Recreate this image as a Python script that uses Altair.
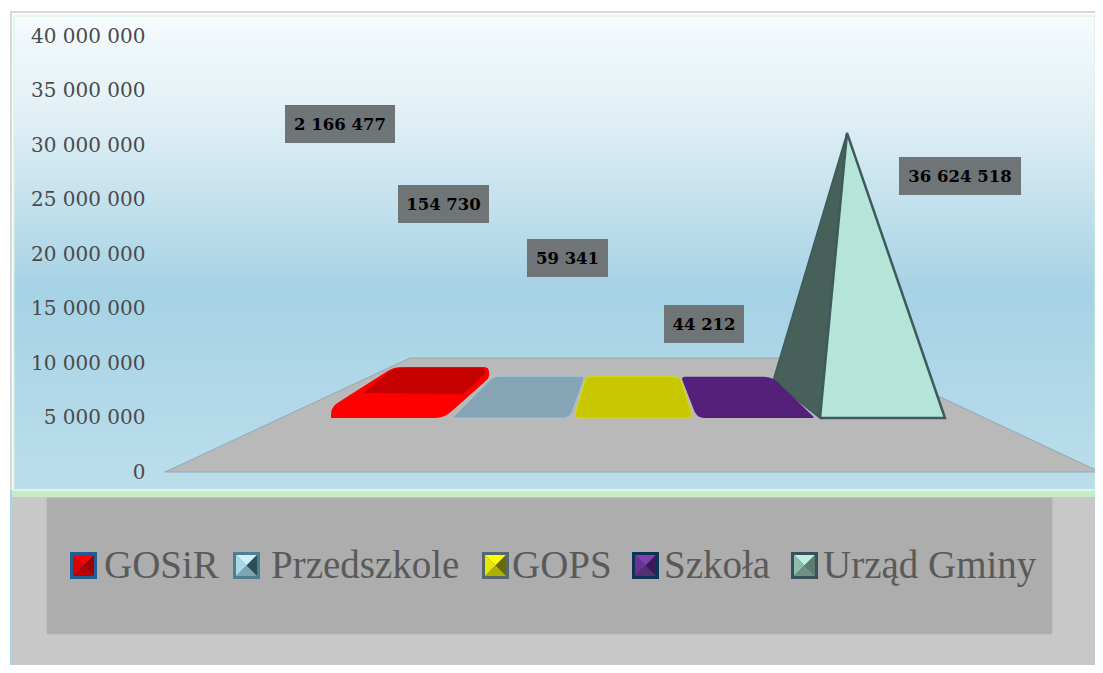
import altair as alt
import pandas as pd

# ---- chart data ----
series = ["GOSiR", "Przedszkole", "GOPS", "Szkoła", "Urząd Gminy"]
values = [2166477, 154730, 59341, 44212, 36624518]
ticks = [0, 5000000, 10000000, 15000000, 20000000, 25000000, 30000000, 35000000, 40000000]
series_colors = ["#fe0000", "#85a4b5", "#c8c800", "#55207a", "#b4e5d8"]

# ---- layout (page pixels) ----
W, H = 1087, 657
OX, OY = 8, 8
ZERO_PY = 472
PX_PER_UNIT = 436 / 40000000
BASE_PY = 418          # front edge of the series row on the 3D floor
PYR_K = 0.714          # perspective foreshortening of pyramid height
SLAB_K = 0.42          # perspective foreshortening of slab rise
BACK_PY = 377
RIGHT = OX + W
BOTTOM = OY + H


def Yv(py):
    return (ZERO_PY - py) / PX_PER_UNIT


xscale = alt.Scale(domain=[OX, RIGHT], nice=False, zero=False)
yscale = alt.Scale(domain=[Yv(BOTTOM), Yv(OY)], nice=False, zero=False)
xenc = alt.X("x:Q", scale=xscale, axis=None)
yenc = alt.Y(
    "y:Q", scale=yscale, stack=None, title=None,
    axis=alt.Axis(
        values=ticks, grid=False, domain=False, ticks=False, title=None,
        offset=-137, labelPadding=0, zindex=1, labelFont="DejaVu Serif",
        labelFontSize=20, labelColor="#4a4a4a",
        labelExpr="replace(format(datum.value, ','), /,/g, ' ')",
    ),
)


def rounded(corners):
    """corners: (x, y, radius); returns a smooth outline."""
    out = []
    n = len(corners)
    for i, (x, y, r) in enumerate(corners):
        if r <= 0:
            out.append((x, y))
            continue
        px, py, _ = corners[i - 1]
        nx, ny, _ = corners[(i + 1) % n]
        d1 = ((px - x) ** 2 + (py - y) ** 2) ** 0.5
        d2 = ((nx - x) ** 2 + (ny - y) ** 2) ** 0.5
        a = (x + (px - x) * r / d1, y + (py - y) * r / d1)
        b = (x + (nx - x) * r / d2, y + (ny - y) * r / d2)
        for k in range(7):
            t = k / 6
            out.append(((1 - t) ** 2 * a[0] + 2 * t * (1 - t) * x + t ** 2 * b[0],
                        (1 - t) ** 2 * a[1] + 2 * t * (1 - t) * y + t ** 2 * b[1]))
    return out


def span_rows(points, name=None):
    """Convex outline -> rows x, y, y2 for an area mark."""
    xs = sorted({round(p[0], 3) for p in points})
    rows = []
    n = len(points)
    for x in xs:
        hits = []
        for i in range(n):
            (x0, y0), (x1, y1) = points[i], points[(i + 1) % n]
            lo, hi = min(x0, x1), max(x0, x1)
            if lo - 0.002 <= x <= hi + 0.002:
                if abs(x1 - x0) < 1e-6:
                    hits += [y0, y1]
                else:
                    hits.append(y0 + (y1 - y0) * (x - x0) / (x1 - x0))
        rows.append({"x": x, "y": Yv(min(hits)), "y2": Yv(max(hits)), "series": name})
    return rows


def poly(points, fill, stroke=None, sw=1.0):
    parts = [alt.Chart(pd.DataFrame(span_rows(points))).mark_area(fill=fill, opacity=1)
             .encode(x=xenc, y=yenc, y2=alt.Y2("y2:Q"))]
    if stroke:
        parts.append(outline(points + [points[0]], stroke, sw))
    return parts


def outline(points, stroke, sw=1.0):
    df = pd.DataFrame([{"x": p[0], "y": Yv(p[1]), "o": i} for i, p in enumerate(points)])
    return alt.Chart(df).mark_line(color=stroke, strokeWidth=sw, strokeJoin="miter").encode(
        x=xenc, y=yenc, order=alt.Order("o:Q"))


def box(x0, y0, x1, y1, fill, stroke=None):
    df = pd.DataFrame([{"x": x0, "x2": x1, "y": Yv(y0), "y2": Yv(y1)}])
    kw = {"stroke": stroke, "strokeWidth": 1} if stroke else {}
    return alt.Chart(df).mark_rect(fill=fill, **kw).encode(
        x=xenc, x2=alt.X2("x2:Q"), y=yenc, y2=alt.Y2("y2:Q"))


layers = []

# ---- panel backgrounds ----
sky = alt.LinearGradient(
    gradient="linear", x1=0, x2=0, y1=0, y2=1,
    stops=[
        alt.GradientStop(offset=0, color="#f6fbfd"),
        alt.GradientStop(offset=0.2, color="#e2f0f6"),
        alt.GradientStop(offset=0.58, color="#a6d2e5"),
        alt.GradientStop(offset=1, color="#bbdeeb"),
    ],
)
layers.append(box(10, 11, RIGHT, BOTTOM, "#d9d9d9"))
layers.append(box(12, 13, RIGHT, 490, "#f8fcfe"))
layers.append(box(14, 16, RIGHT, 490, sky, "#d3f3da"))
layers.append(box(10, 490, 12, BOTTOM, "#a8d4ea"))
layers.append(box(12, 489, RIGHT, 491, "#dff3ee"))
layers.append(box(12, 491, RIGHT, 497, "#c6eec6"))
layers.append(box(12, 497, RIGHT, BOTTOM, "#c8c8c8"))
layers.append(box(47, 498, 1052, 634, "#adadad", "#b4b4b4"))

# ---- 3D floor ----
floor = [(165, 472), (410, 358), (857, 358), (1095, 469.6)]
layers += poly(floor + [(1095, 472)], "#b9b9b9")
layers.append(outline([(1095, 469.6), (857, 358), (410, 358), (165, 472), (1095, 472)], "#8fa9b7", 1))

# ---- pyramid (largest series) ----
apex_py = BASE_PY - values[4] * PX_PER_UNIT * PYR_K
apex = (847, apex_py)
layers += poly([(773, 381), apex, (820, BASE_PY)], "#47605a", "#3d5a5c", 1.5)

# ---- series row ----
rise = [v * PX_PER_UNIT * SLAB_K for v in values]
top = [BACK_PY - r for r in rise]
shapes = {
    "Urząd Gminy": [(820, BASE_PY), (apex[0], apex[1]), (945, BASE_PY)],
    "Szkoła": rounded([(697, 418, 8), (681, top[3], 4), (772, top[3], 8), (815, 418, 3)]),
    "GOPS": rounded([(574, 418, 6), (586, top[2], 4), (680, top[2], 6), (693, 418, 6)]),
    "Przedszkole": rounded([(452, 418, 2), (494, top[1], 5), (585, top[1], 5), (570, 418, 8)]),
    "GOSiR": rounded([(331, 418, 0), (331, 407, 8), (394, top[0], 7), (489, top[0], 5),
                      (489, 378, 3), (444, 418, 9)]),
}
rows = []
for name in ["Urząd Gminy", "Szkoła", "GOPS", "Przedszkole", "GOSiR"]:
    rows += span_rows(shapes[name], name)
legend = alt.Legend(
    orient="none", legendX=57, legendY=538, columns=5, title=None, padding=0,
    symbolType="square", symbolSize=676, symbolOpacity=0, symbolStrokeWidth=0,
    labelFont="Liberation Serif", labelFontSize=39, labelColor="#5a5a5a",
    labelOffset=0, columnPadding=13, labelLimit=0, zindex=1,
)
layers.append(
    alt.Chart(pd.DataFrame(rows)).mark_area(opacity=1).encode(
        x=xenc, y=yenc, y2=alt.Y2("y2:Q"),
        color=alt.Color("series:N", scale=alt.Scale(domain=series, range=series_colors), legend=legend),
    )
)
# slab rims and shading
layers.append(outline(shapes["Przedszkole"] + shapes["Przedszkole"][:1], "#a3c3d6", 1))
layers.append(outline(shapes["GOPS"] + shapes["GOPS"][:1], "#dada10", 1))
layers += poly(rounded([(363, 393, 3), (394, top[0] + 1, 7), (485, top[0] + 1, 5), (485, 374, 2), (463, 394, 3)]),
               "#c60000")
layers.append(outline([(820, BASE_PY), apex, (945, BASE_PY), (820, BASE_PY)], "#3d5a5c", 2.5))

# ---- value labels ----
label_boxes = [(285, 105, 395, 143), (398, 185, 489, 223), (527, 239, 608, 277),
               (664, 305, 744, 343), (899, 157, 1021, 195)]
for (x0, y0, x1, y1) in label_boxes:
    layers.append(box(x0, y0, x1, y1, "#6f7477"))
text_rows = [
    {"x": (b[0] + b[2]) / 2, "y": Yv((b[1] + b[3]) / 2 + 1), "t": f"{v:,}".replace(",", " ")}
    for b, v in zip(label_boxes, values)
]
layers.append(
    alt.Chart(pd.DataFrame(text_rows)).mark_text(
        font="DejaVu Serif", fontSize=16.5, fontWeight="bold", color="#000000", baseline="middle", align="center"
    ).encode(x=xenc, y=yenc, text="t:N")
)

# ---- bevelled legend swatches (under the legend's transparent symbols) ----
swatch_x = [70, 233, 482, 632, 791]
swatch_shades = [
    ("#1f5f95", "#ff0000", "#e00000", "#a00000", "#c00000"),
    ("#4e7f90", "#cfeef8", "#a9d8e8", "#2b4f58", "#7fa5b5"),
    ("#56686c", "#ffff00", "#e8e800", "#6a6a00", "#b0b000"),
    ("#0f3355", "#8040b0", "#6a2f98", "#3b1a5a", "#55306f"),
    ("#35525a", "#bdeee0", "#8fbcae", "#5b7d73", "#6e9184"),
]
SW, SY = 27, 552
for sx, (frame, t, l, r, b) in zip(swatch_x, swatch_shades):
    layers.append(box(sx, SY, sx + SW, SY + SW, frame))
    x0, y0, x1, y1 = sx + 3, SY + 3, sx + SW - 3, SY + SW - 3
    cx, cy = (x0 + x1) / 2, (y0 + y1) / 2
    layers += poly([(x0, y0), (x1, y0), (cx, cy)], t)
    layers += poly([(x0, y0), (cx, cy), (x0, y1)], l)
    layers += poly([(x1, y0), (x1, y1), (cx, cy)], r)
    layers += poly([(x0, y1), (cx, cy), (x1, y1)], b)

chart = alt.layer(*layers).properties(
    width=W, height=H, padding=0,
    autosize=alt.AutoSizeParams(type="none"), background="white",
).configure_view(stroke=None)

chart.save("out.html", embed_options={"renderer": "svg", "actions": False})
